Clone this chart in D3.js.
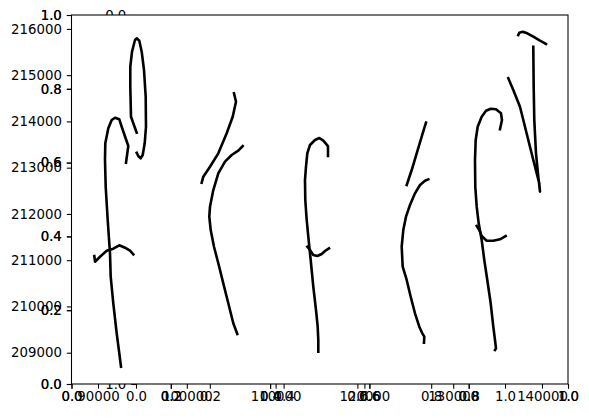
<!DOCTYPE html>
<html><head><meta charset="utf-8">
<script src="https://cdn.jsdelivr.net/npm/d3@7"></script>
<style>body{margin:0;background:#fff} text{font-family:"DejaVu Sans",sans-serif;}</style>
</head><body><svg id="c" width="589" height="418"></svg>
<script>
// ---- tick values ----
const xTicks = [90000, 100000, 110000, 120000, 130000, 140000];
const yTicks = [209000, 210000, 211000, 212000, 213000, 214000, 215000, 216000];
const unitTicks = [0, 0.2, 0.4, 0.6, 0.8, 1.0];
const innerYTicks = [0, 1.0];

// ---- strokes (x, y in data units) ----
const strokeA = [[93153,213107],[93412,213468],[92669,213885],[92399,214045],[91914,214080],[91543,214030],[91160,213851],[90822,213527],[90788,213166],[90867,212588],[91092,211869],[91351,211149],[91430,210643],[91723,210068],[92106,209419],[92399,208987],[92590,208697]];
const strokeB = [[89583,211090],[89662,210967],[90225,211075],[90980,211205],[91723,211248],[92399,211322],[93040,211270],[93604,211205],[93975,211127]];
const strokeC = [[94358,213756],[93716,214102],[93637,214750],[93637,215182],[93829,215507],[94167,215760],[94358,215796],[94651,215745],[94921,215507],[95180,215111],[95372,214534],[95405,213885],[95259,213527],[95034,213274],[94808,213202],[94538,213252],[94358,213323]];
const strokeD = [[101678,212675],[101858,212805],[102612,213021],[103547,213310],[104493,213743],[105169,214102],[105540,214426],[105315,214607]];
const strokeE = [[106295,213468],[105799,213367],[105056,213274],[104301,213129],[103547,212878],[102984,212517],[102612,212156],[102533,211940],[102691,211652],[103063,211291],[103547,210933],[104110,210500],[104673,210068],[105236,209636],[105687,209404]];
const strokeF = [[115900,213252],[115900,213468],[115371,213583],[114921,213641],[114436,213598],[113873,213490],[113569,213310],[113423,213021],[113310,212733],[113344,212301],[113502,211869],[113682,211508],[113952,211004],[114245,210427],[114549,209923],[114740,209562],[114808,209275],[114808,209022]];
const strokeG = [[113569,211291],[113873,211220],[114245,211112],[114695,211090],[115191,211134],[115562,211198],[116013,211257]];
const strokeH = [[124763,212625],[125326,212949],[125889,213310],[126452,213669],[126936,213972]];
const strokeI = [[127195,212748],[126823,212718],[126260,212625],[125697,212446],[125134,212193],[124684,211940],[124380,211652],[124200,211291],[124312,210859],[124763,210572],[125213,210211],[125697,209852],[126182,209562],[126520,209419],[126745,209346],[126711,209216]];
const strokeJ = [[135269,213829],[135494,214030],[135382,214175],[134819,214262],[134222,214275],[133693,214231],[133208,214102],[132758,213885],[132533,213598],[132454,213166],[132488,212588],[132646,212156],[132871,211797],[133208,211436],[133501,211004],[133839,210572],[134222,210068],[134515,209562],[134706,209275],[134819,209095],[134706,209058]];
const strokeK = [[132646,211739],[132938,211652],[133208,211523],[133772,211421],[134515,211421],[135269,211451],[135911,211523]];
const strokeL = [[136204,214932],[136767,214679],[137521,214318],[138084,213885],[138648,213453],[139211,213021],[139695,212662],[139774,212480],[139582,212805],[139323,213310],[139132,214030],[139064,214750],[139019,215615]];
const strokeM = [[137330,215868],[137443,215917],[137826,215939],[138343,215905],[139019,215831],[139774,215745],[140337,215688],[140449,215673]];
const strokes = [strokeA, strokeB, strokeC, strokeD, strokeE, strokeF, strokeG, strokeH, strokeI, strokeJ, strokeK, strokeL, strokeM];

const svg = d3.select("#c");
const L = 71.5, R = 568, T = 15, B = 384;
const FS = "13.3px";

const x = d3.scaleLinear().domain([90000, 140000]).range([98, 542]);
const y = d3.scaleLinear().domain([209000, 216000]).range([352.7, 28.9]);
const ux = d3.scaleLinear().domain([0, 1]).range([L, R]);
const uy = d3.scaleLinear().domain([0, 1]).range([B, T]);
const cx = d3.scaleLinear().domain([0, 1]).range([136, 505]);
const cy = d3.scaleLinear().domain([0, 1]).range([T, B]);

const fmtU = d3.format(".1f");
const fmtD = d3.format("d");

function style(g) {
  g.selectAll("text").style("font-size", FS).style("font-family", '"DejaVu Sans"').attr("fill", "#000");
  g.selectAll("line").attr("stroke", "#000").attr("stroke-width", 1.07);
  g.select(".domain").remove();
  g.attr("font-size", null).attr("font-family", null);
}

// inner axes y labels (mostly hidden behind plot patch)
svg.append("g").attr("transform", `translate(136,0)`)
  .call(d3.axisLeft(cy).tickValues(innerYTicks).tickFormat(fmtU).tickSize(4.67).tickPadding(5))
  .call(style);

// plot patch
svg.append("rect").attr("x", L).attr("y", T).attr("width", R - L).attr("height", B - T).attr("fill", "#fff");

// bottom axes
svg.append("g").attr("transform", `translate(0,${B})`)
  .call(d3.axisBottom(cx).tickValues(unitTicks).tickFormat(fmtU).tickSize(4.67).tickPadding(3))
  .call(style);
svg.append("g").attr("transform", `translate(0,${B})`)
  .call(d3.axisBottom(x).tickValues(xTicks).tickFormat(fmtD).tickSize(4.67).tickPadding(3))
  .call(style);
for (let k = 0; k < 2; k++) {
  svg.append("g").attr("transform", `translate(0,${B})`)
    .call(d3.axisBottom(ux).tickValues(unitTicks).tickFormat(fmtU).tickSize(4.67).tickPadding(3))
    .call(style);
}

// left axes
svg.append("g").attr("transform", `translate(${L},0)`)
  .call(d3.axisLeft(y).tickValues(yTicks).tickFormat(fmtD).tickSize(4.67).tickPadding(5))
  .call(style);
for (let k = 0; k < 2; k++) {
  svg.append("g").attr("transform", `translate(${L},0)`)
    .call(d3.axisLeft(uy).tickValues(unitTicks).tickFormat(fmtU).tickSize(4.67).tickPadding(5))
    .call(style);
}

// frame
svg.append("rect").attr("x", L).attr("y", T).attr("width", R - L).attr("height", B - T)
  .attr("fill", "none").attr("stroke", "#000").attr("stroke-width", 1.07);

// strokes
const line = d3.line().x(d => x(d[0])).y(d => y(d[1]));
svg.append("g").selectAll("path").data(strokes).join("path")
  .attr("d", line)
  .attr("fill", "none").attr("stroke", "#000").attr("stroke-width", 2.6)
  .attr("stroke-linejoin", "round").attr("stroke-linecap", "square");
</script>
</body></html>
